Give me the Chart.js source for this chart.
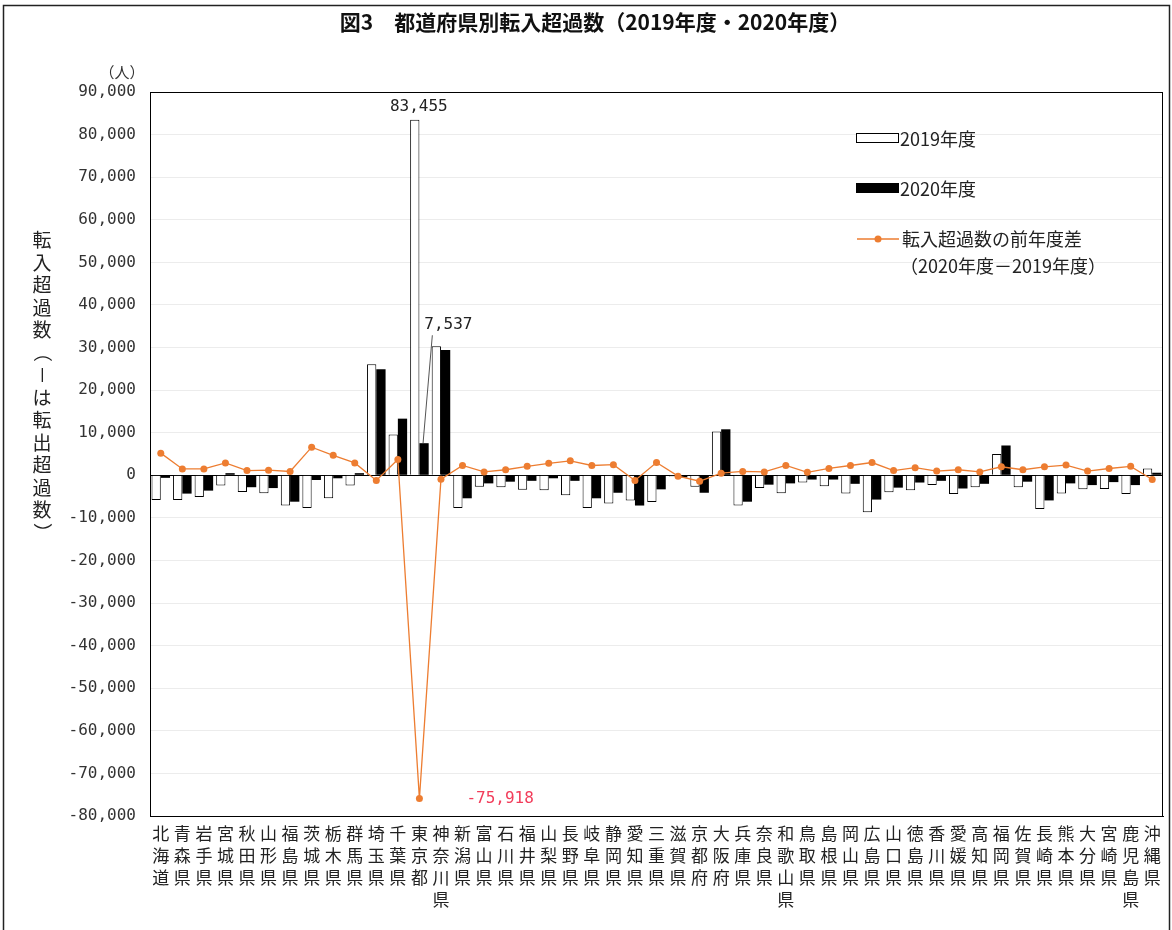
<!DOCTYPE html>
<html lang="ja">
<head>
<meta charset="utf-8">
<title>都道府県別転入超過数</title>
<script src="https://cdn.jsdelivr.net/npm/chart.js@4.4.1/dist/chart.umd.min.js"></script>
<style>
  html, body { margin: 0; padding: 0; background: #fff; }
  #wrap { width: 1172px; height: 930px; position: relative; }
  canvas { display: block; }
</style>
</head>
<body>
<div id="wrap"><canvas id="c" width="1172" height="930"></canvas></div>
<script>
// 都道府県
const prefectures = [
  '北海道','青森県','岩手県','宮城県','秋田県','山形県','福島県','茨城県','栃木県','群馬県',
  '埼玉県','千葉県','東京都','神奈川県','新潟県','富山県','石川県','福井県','山梨県','長野県',
  '岐阜県','静岡県','愛知県','三重県','滋賀県','京都府','大阪府','兵庫県','奈良県','和歌山県',
  '鳥取県','島根県','岡山県','広島県','山口県','徳島県','香川県','愛媛県','高知県','福岡県',
  '佐賀県','長崎県','熊本県','大分県','宮崎県','鹿児島県','沖縄県'
];

// 転入超過数（人）2019年度
const net2019 = [
  -5800, -5800, -5100, -2400, -3900, -4200, -7100, -7700, -5400, -2400,
  26100, 9600, 83455, 30300, -7700, -2700, -2800, -3400, -3500, -4700,
  -7700, -6600, -5900, -6300, -300, -2700, 10300, -7100, -3000, -4200,
  -1700, -2600, -4300, -8700, -4000, -3500, -2300, -4400, -2800, 5000,
  -2800, -7900, -4300, -3300, -3200, -4400, 1600
];

// 転入超過数（人）2020年度
const net2020 = [
  -600, -4300, -3600, 500, -2800, -3000, -6200, -1100, -700, 500,
  24900, 13300, 7537, 29400, -5400, -1900, -1500, -1300, -700, -1300,
  -5400, -4100, -7100, -3300, -500, -4100, 10800, -6200, -2200, -1900,
  -1000, -1000, -2000, -5700, -2900, -1700, -1300, -3100, -2000, 7000,
  -1500, -5900, -1900, -2300, -1600, -2300, 600
];

// 転入超過数の前年度差（2020年度－2019年度）
const diffYoY = [
  5200, 1500, 1500, 2900, 1100, 1200, 900, 6600, 4700, 2900,
  -1200, 3700, -75918, -900, 2300, 800, 1300, 2100, 2800, 3400,
  2300, 2500, -1200, 3000, -200, -1400, 500, 900, 800, 2300,
  700, 1600, 2300, 3000, 1100, 1800, 1000, 1300, 800, 2000,
  1300, 2000, 2400, 1000, 1600, 2100, -1000
];

// 縦軸目盛
const yMin = -80000;
const yMax = 90000;
const yStep = 10000;

const seriesNames = ['2019年度', '2020年度', '転入超過数の前年度差', '（2020年度－2019年度）'];
const titleText = '図3　都道府県別転入超過数（2019年度・2020年度）';
const yTitleChars = ['転','入','超','過','数','（','－','は','転','出','超','過','数','）'];
const unitText = '（人）';

const JP = '"Noto Sans CJK JP", "Noto Sans", sans-serif';
const MONO = '"DejaVu Sans Mono", monospace';
const ORANGE = '#ED7D31';

const fmt = v => v.toLocaleString('en-US');

// 縦書きの都道府県名（1文字ずつ改行）
const xLabels = prefectures.map(p => Array.from(p));

const decorations = {
  id: 'decorations',
  beforeDraw(chart) {
    const ctx = chart.ctx;
    ctx.save();
    ctx.fillStyle = '#fff';
    ctx.fillRect(0, 0, chart.width, chart.height);
    ctx.restore();
  },
  afterDraw(chart) {
    const ctx = chart.ctx;
    const a = chart.chartArea;
    ctx.save();

    // 外枠
    ctx.strokeStyle = '#222';
    ctx.lineWidth = 1.5;
    ctx.strokeRect(3.5, 5.5, chart.width - 6, chart.height + 20);

    // プロットエリア枠
    ctx.strokeStyle = '#000';
    ctx.lineWidth = 1;
    ctx.strokeRect(Math.round(a.left) + 0.5, Math.round(a.top) + 0.5,
                   Math.round(a.right - a.left) - 1, Math.round(a.bottom - a.top));

    // タイトル
    ctx.fillStyle = '#111';
    ctx.font = 'bold 21px ' + JP;
    ctx.textAlign = 'center';
    ctx.textBaseline = 'middle';
    ctx.fillText(titleText, 595, 22);

    // 単位
    ctx.font = '15px ' + JP;
    ctx.fillStyle = '#333';
    ctx.fillText(unitText, 122, 72);

    // 縦軸タイトル（縦書き）
    ctx.font = '19px ' + JP;
    ctx.fillStyle = '#222';
    yTitleChars.forEach((ch, i) => {
      const cx = 42, cy = 240 + i * 22.5;
      if (ch === '（' || ch === '）' || ch === '－') {
        ctx.save();
        ctx.translate(cx, cy);
        ctx.rotate(Math.PI / 2);
        ctx.fillText(ch, 0, 0);
        ctx.restore();
      } else {
        ctx.fillText(ch, cx, cy);
      }
    });

    // 凡例
    ctx.textAlign = 'left';
    ctx.font = '18px ' + JP;
    ctx.fillStyle = '#fff';
    ctx.strokeStyle = '#000';
    ctx.lineWidth = 1;
    ctx.fillRect(856, 133, 42, 9);
    ctx.strokeRect(856.5, 133.5, 42, 9);
    ctx.fillStyle = '#000';
    ctx.fillRect(856, 183, 43, 10);
    ctx.fillStyle = '#222';
    ctx.fillText(seriesNames[0], 900, 139);
    ctx.fillText(seriesNames[1], 900, 189);
    ctx.strokeStyle = ORANGE;
    ctx.lineWidth = 1.3;
    ctx.beginPath();
    ctx.moveTo(857, 239);
    ctx.lineTo(899, 239);
    ctx.stroke();
    ctx.fillStyle = ORANGE;
    ctx.beginPath();
    ctx.arc(878, 239, 3.5, 0, Math.PI * 2);
    ctx.fill();
    ctx.fillStyle = '#222';
    ctx.fillText(seriesNames[2], 902, 239);
    ctx.fillText(seriesNames[3], 900, 266);

    // 東京都の値ラベル
    const tokyo = prefectures.indexOf('東京都');
    const kanagawa = prefectures.indexOf('神奈川県');
    const b19 = chart.getDatasetMeta(0).data[tokyo];
    const b20 = chart.getDatasetMeta(1).data[tokyo];
    const dPt = chart.getDatasetMeta(2).data[tokyo];
    const kBar = chart.getDatasetMeta(0).data[kanagawa];

    ctx.font = '16px ' + MONO;
    ctx.fillStyle = '#222';
    ctx.textAlign = 'center';
    ctx.textBaseline = 'bottom';
    ctx.fillText(fmt(net2019[tokyo]), b19.x + 4, b19.y - 5);

    // 2020年度（引出線つき）
    const lx = kBar.x + 12, ly = kBar.y - 21;
    ctx.textBaseline = 'middle';
    ctx.fillText(fmt(net2020[tokyo]), lx, ly);
    ctx.strokeStyle = '#555';
    ctx.lineWidth = 1;
    ctx.beginPath();
    ctx.moveTo(b20.x - 1, b20.y);
    ctx.lineTo(lx - 16, ly + 10);
    ctx.stroke();

    // 前年度差
    ctx.fillStyle = '#F23C5A';
    ctx.textAlign = 'left';
    ctx.fillText(fmt(diffYoY[tokyo]), dPt.x + 47, dPt.y);

    ctx.restore();
  }
};

new Chart(document.getElementById('c'), {
  type: 'bar',
  data: {
    labels: xLabels,
    datasets: [
      {
        label: seriesNames[0],
        data: net2019,
        backgroundColor: '#fff',
        borderColor: '#000',
        borderWidth: 1,
        categoryPercentage: 0.86,
        barPercentage: 1.0,
        order: 1
      },
      {
        label: seriesNames[1],
        data: net2020,
        backgroundColor: '#000',
        borderColor: '#000',
        borderWidth: 0,
        categoryPercentage: 0.86,
        barPercentage: 1.0,
        order: 1
      },
      {
        type: 'line',
        label: seriesNames[2],
        data: diffYoY,
        borderColor: ORANGE,
        backgroundColor: ORANGE,
        borderWidth: 1.3,
        pointRadius: 3.5,
        pointBorderWidth: 0,
        pointBackgroundColor: ORANGE,
        tension: 0,
        order: 0
      }
    ]
  },
  options: {
    responsive: false,
    animation: false,
    devicePixelRatio: 1,
    layout: { padding: { left: 0, right: 9, top: 92, bottom: 0 } },
    plugins: {
      legend: { display: false },
      title: { display: false },
      tooltip: { enabled: false }
    },
    scales: {
      x: {
        grid: { display: false, drawTicks: false },
        border: { color: '#000', width: 1 },
        ticks: {
          autoSkip: false,
          maxRotation: 0,
          minRotation: 0,
          padding: 6,
          color: '#222',
          font: { family: JP, size: 17, lineHeight: 1.3 }
        },
        afterFit(scale) { scale.height = 114; }
      },
      y: {
        min: yMin,
        max: yMax,
        grid: {
          drawTicks: false,
          color: c => (c.tick && c.tick.value === 0) ? '#000' : '#ececec',
          lineWidth: 1
        },
        border: { color: '#000', width: 1 },
        ticks: {
          stepSize: yStep,
          padding: 14,
          color: '#333',
          font: { family: MONO, size: 16 },
          callback: v => fmt(v)
        },
        afterFit(scale) { scale.width = 150; }
      }
    }
  },
  plugins: [decorations]
});
</script>
</body>
</html>
